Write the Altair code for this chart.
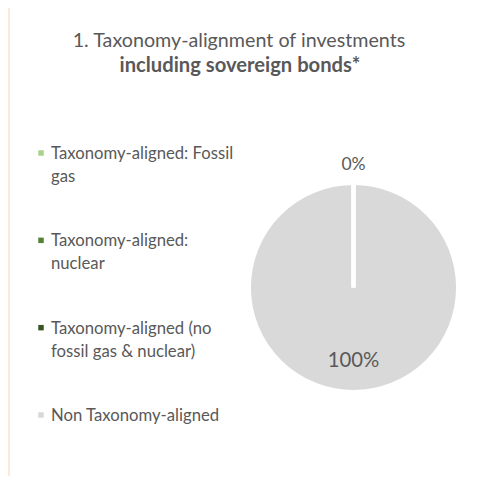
import altair as alt
import pandas as pd

categories = [
    "Taxonomy-aligned: Fossil gas",
    "Taxonomy-aligned: nuclear",
    "Taxonomy-aligned (no fossil gas & nuclear)",
    "Non Taxonomy-aligned",
]
legend_labels = [
    "Taxonomy-aligned: Fossil\ngas",
    "Taxonomy-aligned:\nnuclear",
    "Taxonomy-aligned (no\nfossil gas & nuclear)",
    "Non Taxonomy-aligned",
]
values = [0, 0, 0, 100]
colors = ["#A9D18E", "#548235", "#375623", "#D9D9D9"]
title_lines = ["1. Taxonomy-alignment of investments", "including sovereign bonds*"]

W, H = 480, 468
CX, CY = 345.5, 279.5
FONT = "Lato"
TXT = "#595959"

df = pd.DataFrame({"category": categories, "label": legend_labels, "value": values})
base = alt.Chart(df)

color = alt.Color("category:N", scale=alt.Scale(domain=categories, range=colors), legend=None)
theta_scale = alt.Scale(domain=[0, 100])
order = alt.Order("idx:Q")

pie_base = base.transform_window(idx="row_number()")
pie = pie_base.mark_arc(outerRadius=104.5, stroke=None).encode(
    theta=alt.Theta("value:Q", stack=True, scale=theta_scale),
    color=color,
    order=order,
    x=alt.value(CX),
    y=alt.value(CY),
)
pie_stroke = pie_base.mark_arc(outerRadius=104.5, fillOpacity=0, stroke="white", strokeWidth=4).encode(
    theta=alt.Theta("value:Q", stack=True, scale=theta_scale),
    order=order,
    x=alt.value(CX),
    y=alt.value(CY),
)

lab_base = (
    base.transform_window(cum="sum(value)", frame=[None, 0])
    .transform_calculate(mid="datum.cum - datum.value / 2", pct="format(datum.value, 'd') + '%'")
    .transform_aggregate(n="count()", groupby=["mid", "pct", "value"])
)
zero_lab = lab_base.transform_filter("datum.value == 0").mark_text(
    font=FONT, fontSize=17.5, color=TXT, align="center", baseline="middle"
).encode(
    theta=alt.Theta("mid:Q", stack=False, scale=theta_scale),
    radius=alt.value(123),
    text="pct:N",
    x=alt.value(CX),
    y=alt.value(CY),
)
big_lab = lab_base.transform_filter("datum.value > 0").mark_text(
    font=FONT, fontSize=20.3, color=TXT, align="center", baseline="middle"
).encode(
    theta=alt.Theta("mid:Q", stack=False, scale=theta_scale),
    radius=alt.value(73.5),
    text="pct:N",
    x=alt.value(CX),
    y=alt.value(CY),
)

ypos = alt.Y("category:N", scale=alt.Scale(domain=categories, range=[145, 407], padding=0), axis=None)
leg_sym = base.mark_square(size=30, opacity=1).encode(
    x=alt.value(33), y=ypos, color=color
)
leg_txt = base.mark_text(
    font=FONT, fontSize=16.7, color=TXT, align="left", baseline="alphabetic",
    lineBreak="\n", lineHeight=23, dy=6,
).encode(x=alt.value(43), y=ypos, text="label:N")

tdf = pd.DataFrame({"t": title_lines, "i": [0, 1]})
title1 = alt.Chart(tdf).transform_filter("datum.i == 0").mark_text(
    font=FONT, fontSize=19.7, color=TXT, align="center", baseline="middle"
).encode(x=alt.value(231), y=alt.value(33), text="t:N")
title2 = alt.Chart(tdf).transform_filter("datum.i == 1").mark_text(
    font=FONT, fontSize=20.2, fontWeight="bold", color=TXT, align="center", baseline="middle"
).encode(x=alt.value(232), y=alt.value(58), text="t:N")

strip = base.mark_rule(color="#FCE9D9", strokeWidth=2).encode(
    x=alt.value(1), y=alt.value(0), y2=alt.value(H)
)

chart = (
    alt.layer(strip, pie, pie_stroke, zero_lab, big_lab, leg_sym, leg_txt, title1, title2)
    .properties(width=W, height=H, padding=0, autosize=alt.AutoSizeParams(type="none"), background="white")
    .configure_view(stroke=None)
)
chart.save("out.html", embed_options={"renderer": "svg", "actions": False})
